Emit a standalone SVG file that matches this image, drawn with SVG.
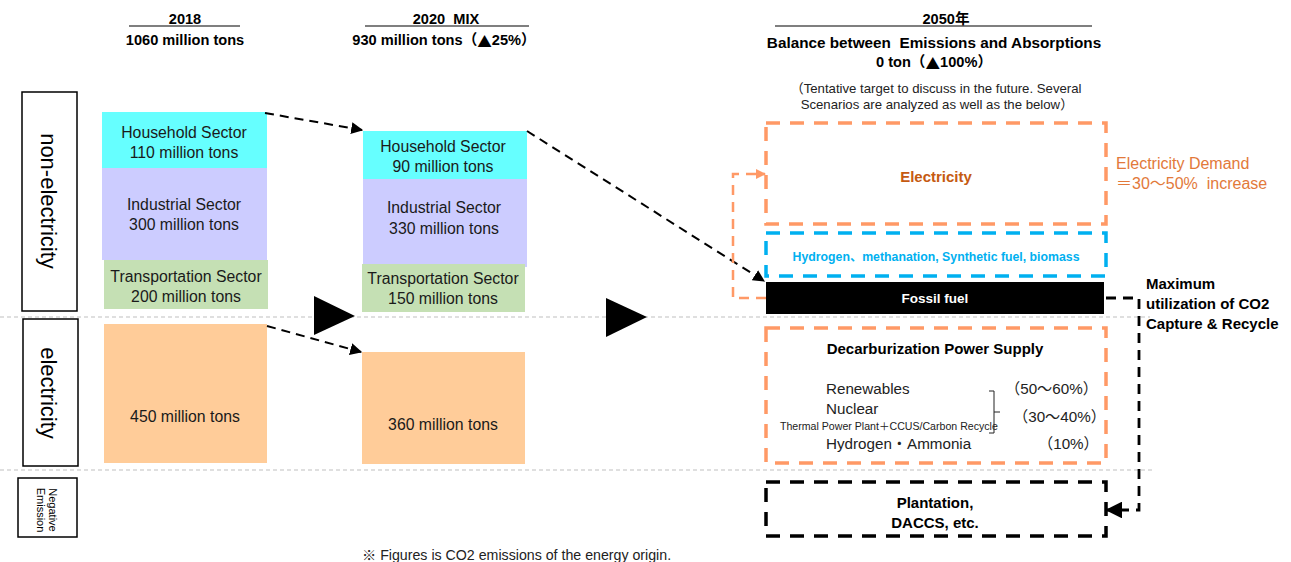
<svg xmlns="http://www.w3.org/2000/svg" width="1291" height="562" viewBox="0 0 1291 562">
  <style>
    text { font-family: "Liberation Sans", "Noto Sans CJK JP", sans-serif; fill: #000; dominant-baseline: central; }
    .hd { font-size: 14.6px; font-weight: bold; text-anchor: middle; white-space: pre; }
    .cjk { font-family: "Noto Sans CJK JP", sans-serif; }
    .sec { font-size: 15.8px; text-anchor: middle; fill: #1a1a1a; }
    .note { font-size: 13.2px; text-anchor: middle; fill: #222; }
    .side { font-size: 22px; text-anchor: middle; }
    .b14 { font-size: 15px; font-weight: bold; }
    .r15 { font-size: 15.2px; fill: #222; }
    .uline { stroke: #555; stroke-width: 1.3; }
    .grid { stroke: #BFBFBF; stroke-width: 1; stroke-dasharray: 4 3; fill: none; }
    .label { fill: #fff; stroke: #000; stroke-width: 1.5; }
    .dash-k { stroke: #000; stroke-width: 2; stroke-dasharray: 9 6; fill: none; }
    .dash-o { stroke: #FF9966; stroke-width: 3.5; stroke-dasharray: 14 10; fill: none; }
    .dash-b { stroke: #00B0F0; stroke-width: 3.5; stroke-dasharray: 14 10; fill: none; }
    .dash-kb { stroke: #000; stroke-width: 3.5; stroke-dasharray: 14 10; fill: none; }
  </style>
  <defs>
    <marker id="ah-k" viewBox="0 0 10 10" refX="9" refY="5" markerWidth="6" markerHeight="6" markerUnits="strokeWidth" orient="auto">
      <path d="M0,0 L10,5 L0,10 z" fill="#000"/>
    </marker>
    <marker id="ah-o" viewBox="0 0 10 10" refX="9" refY="5" markerWidth="4" markerHeight="4" markerUnits="strokeWidth" orient="auto">
      <path d="M0,0 L10,5 L0,10 z" fill="#FF9966"/>
    </marker>
  </defs>

  <!-- column headers -->
  <g id="headers">
    <text class="hd" x="185" y="19">2018</text>
    <line class="uline" x1="129" y1="26" x2="240" y2="26"/>
    <text class="hd" x="185" y="40">1060 million tons</text>

    <text class="hd" x="446" y="19">2020  MIX</text>
    <line class="uline" x1="365" y1="26" x2="529" y2="26"/>
    <text class="hd" x="444" y="40">930 million tons（<tspan class="cjk">▲</tspan>25%）</text>

    <text class="hd" x="946" y="19">2050年</text>
    <line class="uline" x1="775" y1="26" x2="1092" y2="26"/>
    <text class="hd" x="934" y="42" style="font-size:15.3px">Balance between  Emissions and Absorptions</text>
    <text class="hd" x="934" y="62">0 ton（<tspan class="cjk">▲</tspan>100%）</text>
    <text class="note" x="936" y="88">（Tentative target to discuss in the future. Several</text>
    <text class="note" x="937" y="104">Scenarios are analyzed as well as the below）</text>
  </g>

  <!-- row separators -->
  <g id="separators">
    <line class="grid" x1="0" y1="317" x2="1150" y2="317"/>
    <line class="grid" x1="0" y1="470" x2="1154" y2="470"/>
  </g>

  <!-- row labels -->
  <g id="row-non-electricity">
    <rect class="label" x="22" y="92" width="55" height="219"/>
    <text class="side" transform="translate(48,201) rotate(90)">non-electricity</text>
  </g>
  <g id="row-electricity">
    <rect class="label" x="23" y="319" width="55" height="147"/>
    <text class="side" transform="translate(48,393) rotate(90)">electricity</text>
  </g>
  <g id="row-negative">
    <rect class="label" x="18" y="478" width="59" height="59"/>
    <text style="font-size:11px;text-anchor:middle" transform="translate(53,510) rotate(90)">Negative</text>
    <text style="font-size:11px;text-anchor:middle" transform="translate(41,510) rotate(90)">Emission</text>
  </g>

  <!-- 2018 column -->
  <g id="household-2018">
    <rect x="102" y="112" width="165" height="56" fill="#66FFFF"/>
    <text class="sec" x="184" y="132">Household Sector</text>
    <text class="sec" x="184" y="152">110 million tons</text>
  </g>
  <g id="industrial-2018">
    <rect x="102" y="168" width="165" height="92" fill="#CCCCFF"/>
    <text class="sec" x="184" y="204">Industrial Sector</text>
    <text class="sec" x="184" y="224">300 million tons</text>
  </g>
  <g id="transport-2018">
    <rect x="104" y="260" width="164" height="49" fill="#C5E0B4"/>
    <text class="sec" x="186" y="276">Transportation Sector</text>
    <text class="sec" x="186" y="296">200 million tons</text>
  </g>
  <g id="power-2018">
    <rect x="104" y="324" width="163" height="139" fill="#FFCC99"/>
    <text class="sec" x="185" y="416">450 million tons</text>
  </g>

  <!-- 2020 column -->
  <g id="household-2020">
    <rect x="363" y="131" width="164" height="48" fill="#66FFFF"/>
    <text class="sec" x="443" y="146">Household Sector</text>
    <text class="sec" x="443" y="166">90 million tons</text>
  </g>
  <g id="industrial-2020">
    <rect x="363" y="179" width="164" height="88" fill="#CCCCFF"/>
    <text class="sec" x="444" y="207">Industrial Sector</text>
    <text class="sec" x="444" y="228">330 million tons</text>
  </g>
  <g id="transport-2020">
    <rect x="362" y="264" width="163" height="48" fill="#C5E0B4"/>
    <text class="sec" x="443" y="278">Transportation Sector</text>
    <text class="sec" x="443" y="298">150 million tons</text>
  </g>
  <g id="power-2020">
    <rect x="362" y="352" width="163" height="112" fill="#FFCC99"/>
    <text class="sec" x="443" y="424">360 million tons</text>
  </g>

  <!-- progression markers -->
  <g id="step-markers">
    <polygon points="314,296 314,335 355,316" fill="#000"/>
    <polygon points="606,298 606,337 647,317" fill="#000"/>
  </g>

  <!-- 2050 column -->
  <g id="electricity-2050">
    <rect class="dash-o" x="766" y="123" width="340" height="101"/>
    <text class="b14" x="936" y="176" style="text-anchor:middle;fill:#C55A11">Electricity</text>
  </g>
  <g id="demand-note">
    <text class="r15" x="1116" y="163" style="fill:#E2793A;font-size:16px">Electricity Demand</text>
    <text class="r15" x="1116" y="183" style="fill:#E2793A;font-size:16px;white-space:pre">＝30～50%  increase</text>
  </g>
  <g id="hydrogen-2050">
    <rect class="dash-b" x="766" y="233" width="340" height="43"/>
    <text x="936" y="257" style="font-size:12.3px;font-weight:bold;text-anchor:middle;fill:#00B0F0">Hydrogen、methanation, Synthetic fuel, biomass</text>
  </g>
  <g id="fossil-2050">
    <rect x="766" y="282" width="338" height="32" fill="#000"/>
    <text class="b14" x="935" y="298" style="text-anchor:middle;fill:#fff;font-size:13.5px">Fossil fuel</text>
  </g>
  <g id="ccus-note">
    <text class="b14" x="1146" y="283">Maximum</text>
    <text class="b14" x="1146" y="303">utilization of CO2</text>
    <text class="b14" x="1146" y="323">Capture &amp; Recycle</text>
  </g>
  <g id="decarb-2050">
    <rect class="dash-o" x="766" y="328" width="340" height="135"/>
    <text class="b14" x="935" y="348" style="text-anchor:middle">Decarburization Power Supply</text>
    <text class="r15" x="826" y="388">Renewables</text>
    <text class="r15" x="826" y="408">Nuclear</text>
    <text x="780" y="426" style="font-size:10.6px;fill:#222">Thermal Power Plant＋CCUS/Carbon Recycle</text>
    <text class="r15" x="826" y="443">Hydrogen・Ammonia</text>
    <path d="M989,391 H994 V433 H989 M994,412 H1000" fill="none" stroke="#222" stroke-width="1"/>
    <text class="r15" x="1005" y="388">（50～60%）</text>
    <text class="r15" x="1013" y="416">（30～40%）</text>
    <text class="r15" x="1038" y="443">（10%）</text>
  </g>
  <g id="removal-2050">
    <rect class="dash-kb" x="766" y="482" width="340" height="54"/>
    <text class="b14" x="935" y="502" style="text-anchor:middle">Plantation,</text>
    <text class="b14" x="935" y="522" style="text-anchor:middle">DACCS, etc.</text>
  </g>

  <!-- connectors -->
  <g id="connectors">
    <line class="dash-k" x1="265" y1="113" x2="362" y2="130" marker-end="url(#ah-k)"/>
    <line class="dash-k" x1="267" y1="326" x2="361" y2="352" marker-end="url(#ah-k)"/>
    <line class="dash-k" x1="527" y1="131" x2="764" y2="281" marker-end="url(#ah-k)"/>
    <path d="M766,298 H733 V174 H765" stroke="#FF9966" stroke-width="2.5" stroke-dasharray="10 7" fill="none" marker-end="url(#ah-o)"/>
    <path d="M1106,298 H1139 V510 H1107" stroke="#000" stroke-width="2.8" stroke-dasharray="10 7" fill="none" marker-end="url(#ah-k)"/>
  </g>

  <text x="362" y="555" style="font-size:14.2px;fill:#222">※ Figures is CO2 emissions of the energy origin.</text>
</svg>
